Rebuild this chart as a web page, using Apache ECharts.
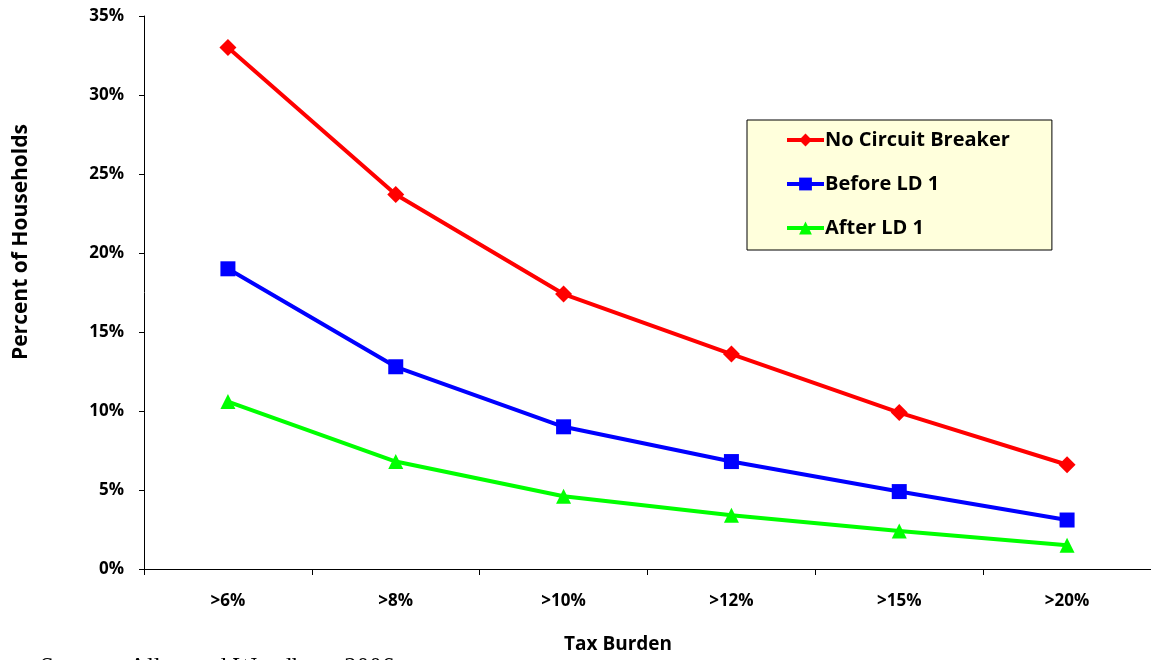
<!DOCTYPE html>
<html>
<head>
<meta charset="utf-8">
<script src="https://cdn.jsdelivr.net/npm/echarts@6/dist/echarts.min.js"></script>
<style>
  html, body { margin: 0; padding: 0; background: #fff; }
  #chart { width: 1151px; height: 660px; }
</style>
</head>
<body>
<div id="chart"></div>
<script>
// Tax burden thresholds and share of households above each
const categories = ['>6%', '>8%', '>10%', '>12%', '>15%', '>20%'];
const noCircuitBreaker = [33.0, 23.7, 17.4, 13.6, 9.9, 6.6];
const beforeLD1 = [19.0, 12.8, 9.0, 6.8, 4.9, 3.1];
const afterLD1 = [10.6, 6.8, 4.6, 3.4, 2.4, 1.5];
const yTicks = [0, 5, 10, 15, 20, 25, 30, 35];

const font = '"Open Sans", "Lato", sans-serif';
const chart = echarts.init(document.getElementById('chart'));

function lineSeries(name, data, color, symbol, size) {
  return {
    name: name,
    type: 'line',
    data: data,
    symbol: symbol,
    symbolSize: size,
    lineStyle: { color: color, width: 4 },
    itemStyle: { color: color },
    animation: false
  };
}

chart.setOption({
  backgroundColor: '#ffffff',
  grid: { left: 144, top: 16, width: 1010, height: 553 },
  legend: {
    orient: 'vertical',
    left: 747,
    top: 120,
    padding: [10, 42, 12, 38],
    itemGap: 24,
    itemWidth: 37,
    itemHeight: 16,
    lineStyle: { width: 4 },
    backgroundColor: '#ffffdc',
    borderColor: '#000',
    borderWidth: 1,
    textStyle: { fontFamily: font, fontWeight: 'bold', fontSize: 20, color: '#000', padding: [0, 0, 0, -4] },
    data: ['No Circuit Breaker', 'Before LD 1', 'After LD 1']
  },
  xAxis: {
    type: 'category',
    data: categories,
    boundaryGap: true,
    axisLine: { lineStyle: { color: '#000', width: 1 } },
    axisTick: { show: true, length: 6, inside: false, lineStyle: { color: '#000' } },
    axisLabel: { fontFamily: font, fontWeight: 'bold', fontSize: 17, color: '#000', margin: 24 },
    splitLine: { show: false }
  },
  yAxis: {
    type: 'value',
    min: 0,
    max: 35,
    interval: 5,
    axisLine: { show: true, lineStyle: { color: '#000', width: 1 } },
    axisTick: { show: true, length: 5, lineStyle: { color: '#000' } },
    axisLabel: {
      fontFamily: font, fontWeight: 'bold', fontSize: 17, color: '#000', margin: 20,
      formatter: function (v) { return yTicks.indexOf(v) >= 0 ? v + '%' : ''; }
    },
    splitLine: { show: false }
  },
  graphic: [
    {
      type: 'text',
      x: 618,
      y: 645,
      style: { text: 'Tax Burden', fontFamily: font, fontWeight: 'bold', fontSize: 19, fill: '#000', align: 'center', verticalAlign: 'middle' }
    },
    {
      type: 'text',
      x: 21,
      y: 242,
      rotation: Math.PI / 2,
      style: { text: 'Percent of Households', fontFamily: font, fontWeight: 'bold', fontSize: 21, fill: '#000', align: 'center', verticalAlign: 'middle' }
    },
    {
      type: 'text',
      left: 40,
      top: 656,
      style: { text: 'Source:  Allen and Woodbury 2006', fontFamily: '"Liberation Serif", serif', fontSize: 25, fill: '#000' }
    }
  ],
  series: [
    lineSeries('No Circuit Breaker', noCircuitBreaker, '#ff0000', 'diamond', 17),
    lineSeries('Before LD 1', beforeLD1, '#0000ff', 'rect', 15),
    lineSeries('After LD 1', afterLD1, '#00ff00', 'triangle', 15)
  ]
});
</script>
</body>
</html>
